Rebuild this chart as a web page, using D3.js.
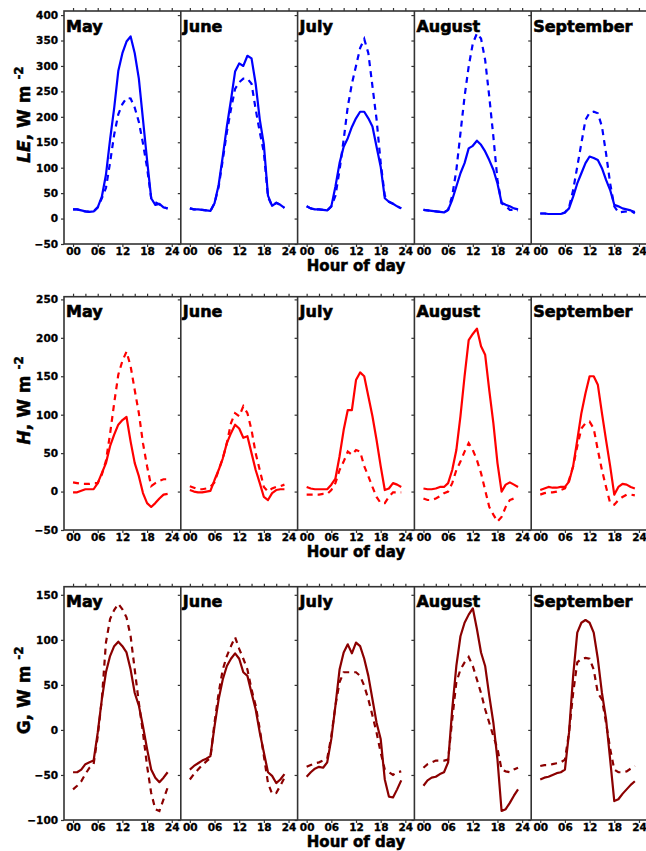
<!DOCTYPE html>
<html>
<head>
<meta charset="utf-8">
<script src="https://cdn.jsdelivr.net/npm/d3@7"></script>
<style>
  body { margin: 0; background: #fff; }
  svg { display: block; }
  text { font-family: "DejaVu Sans", sans-serif; font-weight: bold; fill: #000; }
</style>
</head>
<body>
<svg id="chart" width="646" height="851"></svg>
<script>
var months = ['May', 'June', 'July', 'August', 'September'];
var hours = [0, 1, 2, 3, 4, 5, 6, 7, 8, 9, 10, 11, 12, 13, 14, 15, 16, 17, 18, 19, 20, 21, 22, 23];
var hourTicks = [0, 6, 12, 18, 24];
var hourTickLabels = ['00', '06', '12', '18', '24'];

// LE, W m-2 : solid and dashed, one row per month
var leSolid = [
  [18, 18, 16, 14, 13, 14, 22, 43, 86, 155, 217, 290, 325, 348, 358, 325, 275, 195, 115, 40, 27, 29, 22, 20],
  [20, 18, 18, 17, 16, 15, 30, 66, 122, 181, 233, 289, 305, 300, 320, 315, 265, 195, 145, 45, 25, 31, 27, 21],
  [24, 20, 18, 18, 17, 16, 24, 63, 109, 141, 158, 180, 197, 210, 210, 197, 181, 141, 102, 40, 33, 29, 24, 20],
  [17, 16, 15, 14, 13, 12, 17, 37, 63, 89, 109, 138, 143, 153, 145, 132, 115, 96, 69, 31, 27, 24, 20, 18],
  [10, 10, 9, 9, 9, 9, 12, 20, 43, 69, 89, 109, 122, 119, 115, 99, 76, 56, 27, 24, 20, 18, 16, 13]
];
var leDashed = [
  [18, 18, 16, 14, 13, 14, 22, 40, 60, 110, 165, 205, 225, 237, 236, 218, 190, 148, 100, 40, 32, 28, 22, 20],
  [20, 18, 18, 17, 16, 15, 30, 62, 115, 170, 215, 255, 268, 275, 275, 265, 215, 170, 130, 42, 25, 31, 27, 21],
  [24, 20, 18, 18, 17, 16, 24, 45, 95, 155, 220, 265, 300, 335, 353, 325, 260, 195, 110, 45, 33, 29, 24, 20],
  [17, 16, 15, 14, 13, 12, 17, 45, 95, 168, 240, 299, 344, 364, 354, 312, 240, 161, 76, 30, 25, 17, 17, 16],
  [10, 10, 9, 9, 9, 9, 12, 22, 56, 102, 148, 194, 208, 210, 207, 181, 128, 69, 24, 12, 13, 14, 16, 10]
];

// H, W m-2
var hSolid = [
  [-1, -1, 1, 3, 3, 3, 11, 24, 37, 59, 74, 87, 93, 97, 65, 37, 20, -2, -15, -20, -15, -9, -4, -3],
  [2, 0, -1, -1, 0, 1, 15, 28, 43, 63, 76, 87, 82, 70, 72, 50, 28, 11, -7, -11, -2, 2, 3, 3],
  [6, 4, 3, 3, 3, 3, 9, 17, 46, 80, 106, 106, 145, 155, 150, 124, 98, 67, 33, 2, 4, 11, 9, 6],
  [4, 3, 3, 4, 6, 6, 11, 28, 54, 98, 150, 197, 205, 212, 189, 178, 132, 89, 37, 0, 9, 12, 9, 6],
  [2, 4, 6, 5, 5, 6, 6, 13, 33, 67, 102, 128, 150, 150, 139, 102, 67, 33, -4, 6, 10, 9, 6, 4]
];
var hDashed = [
  [12, 11, 10, 10, 10, 11, 11, 22, 40, 75, 115, 152, 170, 182, 163, 132, 102, 63, 33, 7, 11, 14, 16, 16],
  [7, 5, 3, 3, 4, 6, 12, 28, 43, 63, 89, 102, 98, 111, 102, 80, 50, 28, 6, 0, 4, 6, 7, 9],
  [-4, -4, -4, -4, -3, -3, 2, 11, 28, 39, 52, 48, 54, 52, 33, 20, 6, -7, -15, -15, -7, -1, -1, -1],
  [-9, -11, -11, -9, -6, -2, 0, 11, 28, 39, 52, 63, 54, 41, 24, 2, -20, -30, -39, -33, -20, -11, -9, -7],
  [-4, -2, -1, -1, 0, 2, 4, 15, 33, 59, 82, 89, 91, 82, 54, 28, 6, -15, -17, -11, -7, -4, -4, -5]
];

// G, W m-2
var gSolid = [
  [-47, -47, -44, -38, -36, -34, -3, 34, 64, 82, 93, 98, 93, 86, 67, 41, 27, 4, -21, -44, -53, -58, -53, -47],
  [-44, -40, -37, -34, -32, -29, 4, 34, 56, 71, 79, 85, 79, 64, 60, 41, 23, -3, -25, -47, -51, -59, -55, -49],
  [-52, -47, -43, -41, -42, -36, -10, 27, 67, 86, 95, 85, 97, 93, 79, 60, 34, 8, -10, -55, -74, -75, -66, -56],
  [-62, -56, -53, -52, -49, -47, -36, 23, 71, 104, 119, 128, 135, 112, 86, 71, 38, 8, -33, -90, -88, -81, -73, -66],
  [-55, -53, -52, -50, -48, -47, -44, -3, 60, 108, 119, 122, 119, 108, 79, 41, 12, -33, -79, -77, -71, -66, -61, -57]
];
var gDashed = [
  [-66, -62, -57, -49, -42, -38, -7, 34, 97, 123, 133, 140, 134, 125, 104, 67, 30, -3, -40, -70, -88, -90, -77, -64],
  [-55, -49, -44, -39, -35, -31, 8, 41, 67, 82, 93, 103, 90, 79, 67, 45, 27, 1, -29, -59, -71, -70, -62, -53],
  [-41, -39, -37, -36, -34, -32, -7, 27, 53, 64, 64, 64, 64, 60, 49, 34, 16, -3, -25, -44, -47, -50, -47, -46],
  [-42, -38, -36, -34, -34, -34, -33, 12, 53, 67, 75, 81, 71, 56, 41, 23, 8, -7, -21, -44, -46, -47, -44, -42],
  [-40, -39, -39, -38, -37, -36, -33, -3, 41, 75, 79, 80, 79, 67, 41, 34, 8, -21, -44, -47, -47, -46, -43, -40]
];

var rowTicks = [
  [-50, 0, 50, 100, 150, 200, 250, 300, 350, 400],
  [-50, 0, 50, 100, 150, 200, 250],
  [-100, -50, 0, 50, 100, 150]
];
var rowDomains = [[-50, 408], [-50, 253.5], [-100, 159]];
var rowNames = ['LE', 'H', 'G'];

(function () {
    var svg = d3.select('#chart');
    var left = 64, panelW = 116.8;
    var rows = [
        { top: 11, bottom: 244, solid: leSolid, dashed: leDashed, color: '#0000ff', italic: true },
        { top: 296.7, bottom: 530, solid: hSolid, dashed: hDashed, color: '#ff0000', italic: true },
        { top: 586.7, bottom: 820, solid: gSolid, dashed: gDashed, color: '#8b0000', italic: false }
    ];
    var frameColor = '#333';

    function boldText(sel, size, thick) {
        sel.attr('font-size', size)
            .style('font-family', '"DejaVu Sans", sans-serif')
            .style('font-weight', 'bold')
            .attr('fill', '#000')
            .attr('stroke', '#000')
            .attr('stroke-width', thick);
    }

    rows.forEach(function (row, ri) {
        var g = svg.append('g');
        var y = d3.scaleLinear().domain(rowDomains[ri]).range([row.bottom, row.top]);

        months.forEach(function (m, mi) {
            var x0 = left + mi * panelW;
            var x = d3.scaleLinear().domain([-2.2, 26.2]).range([x0, x0 + panelW]);
            var p = g.append('g');

            var line = d3.line()
                .x(function (d, i) { return x(hours[i]); })
                .y(function (d) { return y(d); });

            p.append('path')
                .attr('d', line(row.dashed[mi]))
                .attr('fill', 'none')
                .attr('stroke', row.color)
                .attr('stroke-width', 2.2)
                .attr('stroke-dasharray', '6,5');

            p.append('path')
                .attr('d', line(row.solid[mi]))
                .attr('fill', 'none')
                .attr('stroke', row.color)
                .attr('stroke-width', 2.2)
                .attr('stroke-linejoin', 'round');

            // bottom hour axis
            var xb = d3.axisBottom(x).tickValues(hourTicks).tickSize(3)
                .tickFormat(function (d, i) { return hourTickLabels[i]; });
            var ax = p.append('g').attr('transform', 'translate(0,' + row.bottom + ')').call(xb);
            ax.select('.domain').remove();
            ax.selectAll('line').attr('stroke', frameColor).attr('stroke-width', 1.2);
            ax.selectAll('text').attr('dy', '0.5em').call(boldText, 10.5, 0.3);

            // top minor ticks
            var xt = d3.axisTop(x).tickValues([0, 3, 6, 9, 12, 15, 18, 21, 24]).tickSize(3).tickFormat('');
            var at = p.append('g').attr('transform', 'translate(0,' + row.top + ')').call(xt);
            at.select('.domain').remove();
            at.selectAll('line').attr('stroke', frameColor).attr('stroke-width', 1.2);

            // small ticks on panel divider
            if (mi > 0) {
                var yr = d3.axisLeft(y).tickValues(rowTicks[ri]).tickSize(3).tickFormat('');
                var ar = p.append('g').attr('transform', 'translate(' + x0 + ',0)').call(yr);
                ar.select('.domain').remove();
                ar.selectAll('line').attr('stroke', frameColor).attr('stroke-width', 1.2);
            }

            p.append('text')
                .attr('x', x0 + 2)
                .attr('y', row.top + 20.5)
                .call(boldText, 16, 0.6)
                .text(m);
        });

        // left value axis
        var yl = d3.axisLeft(y).tickValues(rowTicks[ri]).tickSize(3);
        var al = g.append('g').attr('transform', 'translate(' + left + ',0)').call(yl);
        al.select('.domain').remove();
        al.selectAll('line').attr('stroke', frameColor).attr('stroke-width', 1.2);
        al.selectAll('text').call(boldText, 10.5, 0.3);

        // frame
        var right = left + 5 * panelW;
        g.append('rect')
            .attr('x', left).attr('y', row.top)
            .attr('width', right - left).attr('height', row.bottom - row.top)
            .attr('fill', 'none').attr('stroke', frameColor).attr('stroke-width', 1.6);
        for (var k = 1; k < 5; k++) {
            g.append('line')
                .attr('x1', left + k * panelW).attr('x2', left + k * panelW)
                .attr('y1', row.top).attr('y2', row.bottom)
                .attr('stroke', frameColor).attr('stroke-width', 1.6);
        }

        g.append('text')
            .attr('x', 356).attr('y', row.bottom + 27)
            .attr('text-anchor', 'middle')
            .call(boldText, 15, 0.5)
            .text('Hour of day');

        var cy = (row.top + row.bottom) / 2 - 13;
        var lab = g.append('text')
            .attr('transform', 'translate(30,' + cy + ') rotate(-90)')
            .attr('text-anchor', 'middle')
            .call(boldText, 17, 0.5);
        lab.append('tspan').attr('font-style', row.italic ? 'italic' : 'normal').text(rowNames[ri]);
        lab.append('tspan').text(', W m ');
        lab.append('tspan').attr('font-size', 12).attr('dy', -7).text('-2');
    });
})();
</script>
</body>
</html>
